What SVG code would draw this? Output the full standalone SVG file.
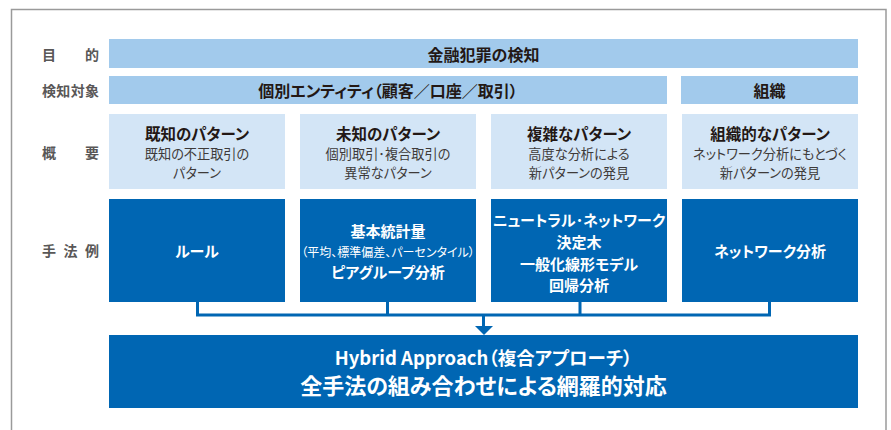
<svg xmlns="http://www.w3.org/2000/svg" width="891" height="430" viewBox="0 0 891 430">
<style>
text{font-family:"Noto Sans CJK JP","Noto Sans",sans-serif;dominant-baseline:central;font-feature-settings:"palt";}
.lbl{font-size:14px;font-weight:bold;fill:#595757;font-feature-settings:normal;}
.bar{fill:#A2CAEC;}
.lite{fill:#D3E5F6;}
.dark{fill:#0066B3;}
.bt{font-size:16px;font-weight:bold;fill:#231815;text-anchor:middle;}
.tt{font-size:15.5px;font-weight:bold;fill:#231815;text-anchor:middle;}
.st{font-size:13.2px;fill:#3E3A39;text-anchor:middle;}
.wt{font-size:15px;font-weight:bold;fill:#fff;text-anchor:middle;}
.ws{font-size:12px;fill:#fff;text-anchor:middle;}
.conn{fill:none;stroke:#0066B3;stroke-width:3;}
</style>
<rect width="891" height="430" fill="#fff"/>
<path d="M11.5,431 V9.5 H886 V431" fill="none" stroke="#9A9A9A" stroke-width="1.5"/>

<g id="labels">
<text class="lbl" x="42" y="53.5">目</text>
<text class="lbl" x="99" y="53.5" text-anchor="end">的</text>
<text class="lbl" x="42" y="90" textLength="57" lengthAdjust="spacing">検知対象</text>
<text class="lbl" x="42" y="152">概</text>
<text class="lbl" x="99" y="152" text-anchor="end">要</text>
<text class="lbl" x="42" y="250">手</text>
<text class="lbl" x="70.5" y="250" text-anchor="middle">法</text>
<text class="lbl" x="99" y="250" text-anchor="end">例</text>
</g>

<g id="purpose">
<rect class="bar" x="109" y="39" width="749" height="29"/>
<text class="bt" x="483.5" y="53.5">金融犯罪の検知</text>
</g>
<g id="target-entity">
<rect class="bar" x="109" y="76" width="558" height="28"/>
<text class="bt" x="388" y="90">個別エンティティ（顧客／口座／取引）</text>
</g>
<g id="target-org">
<rect class="bar" x="681" y="76" width="177" height="28"/>
<text class="bt" x="769.5" y="90">組織</text>
</g>

<g id="known">
<rect class="lite" x="109" y="114" width="176" height="75"/>
<text class="tt" x="197" y="132.5">既知のパターン</text>
<text class="st" x="197" y="153">既知の不正取引の</text>
<text class="st" x="197" y="172.2">パターン</text>
</g>
<g id="unknown">
<rect class="lite" x="300" y="114" width="176" height="75"/>
<text class="tt" x="388" y="132.5">未知のパターン</text>
<text class="st" x="388" y="153">個別取引･複合取引の</text>
<text class="st" x="388" y="172.2">異常なパターン</text>
</g>
<g id="complex">
<rect class="lite" x="491" y="114" width="176" height="75"/>
<text class="tt" x="579" y="132.5">複雑なパターン</text>
<text class="st" x="579" y="153">高度な分析による</text>
<text class="st" x="579" y="172.2">新パターンの発見</text>
</g>
<g id="organized">
<rect class="lite" x="682" y="114" width="176" height="75"/>
<text class="tt" x="770" y="132.5">組織的なパターン</text>
<text class="st" x="770" y="153">ネットワーク分析にもとづく</text>
<text class="st" x="770" y="172.2">新パターンの発見</text>
</g>

<g id="rule">
<rect class="dark" x="109" y="199" width="176" height="103"/>
<text class="wt" x="197" y="250">ルール</text>
</g>
<g id="stats">
<rect class="dark" x="300" y="199" width="176" height="103"/>
<text class="wt" x="388" y="230">基本統計量</text>
<text class="ws" x="388" y="251">（平均、標準偏差、パーセンタイル）</text>
<text class="wt" x="388" y="271">ピアグループ分析</text>
</g>
<g id="ml">
<rect class="dark" x="491" y="199" width="176" height="103"/>
<text class="wt" x="579" y="219">ニュートラル･ネットワーク</text>
<text class="wt" x="579" y="241">決定木</text>
<text class="wt" x="579" y="263">一般化線形モデル</text>
<text class="wt" x="579" y="284">回帰分析</text>
</g>
<g id="network">
<rect class="dark" x="682" y="199" width="176" height="103"/>
<text class="wt" x="770" y="250">ネットワーク分析</text>
</g>

<g id="connectors">
<path class="conn" d="M197.5,302 V315 H769.5 V302 M387.5,302 V315 M580,302 V315 M483.5,315 V327"/>
<polygon points="475,326 493,326 484,335" fill="#0066B3"/>
</g>

<g id="hybrid">
<rect class="dark" x="109" y="335" width="749" height="73"/>
<text class="wt" x="483.5" y="357" style="font-size:18.5px">Hybrid Approach（複合アプローチ）</text>
<text class="wt" x="483.5" y="383.5" style="font-size:22px">全手法の組み合わせによる網羅的対応</text>
</g>
</svg>
